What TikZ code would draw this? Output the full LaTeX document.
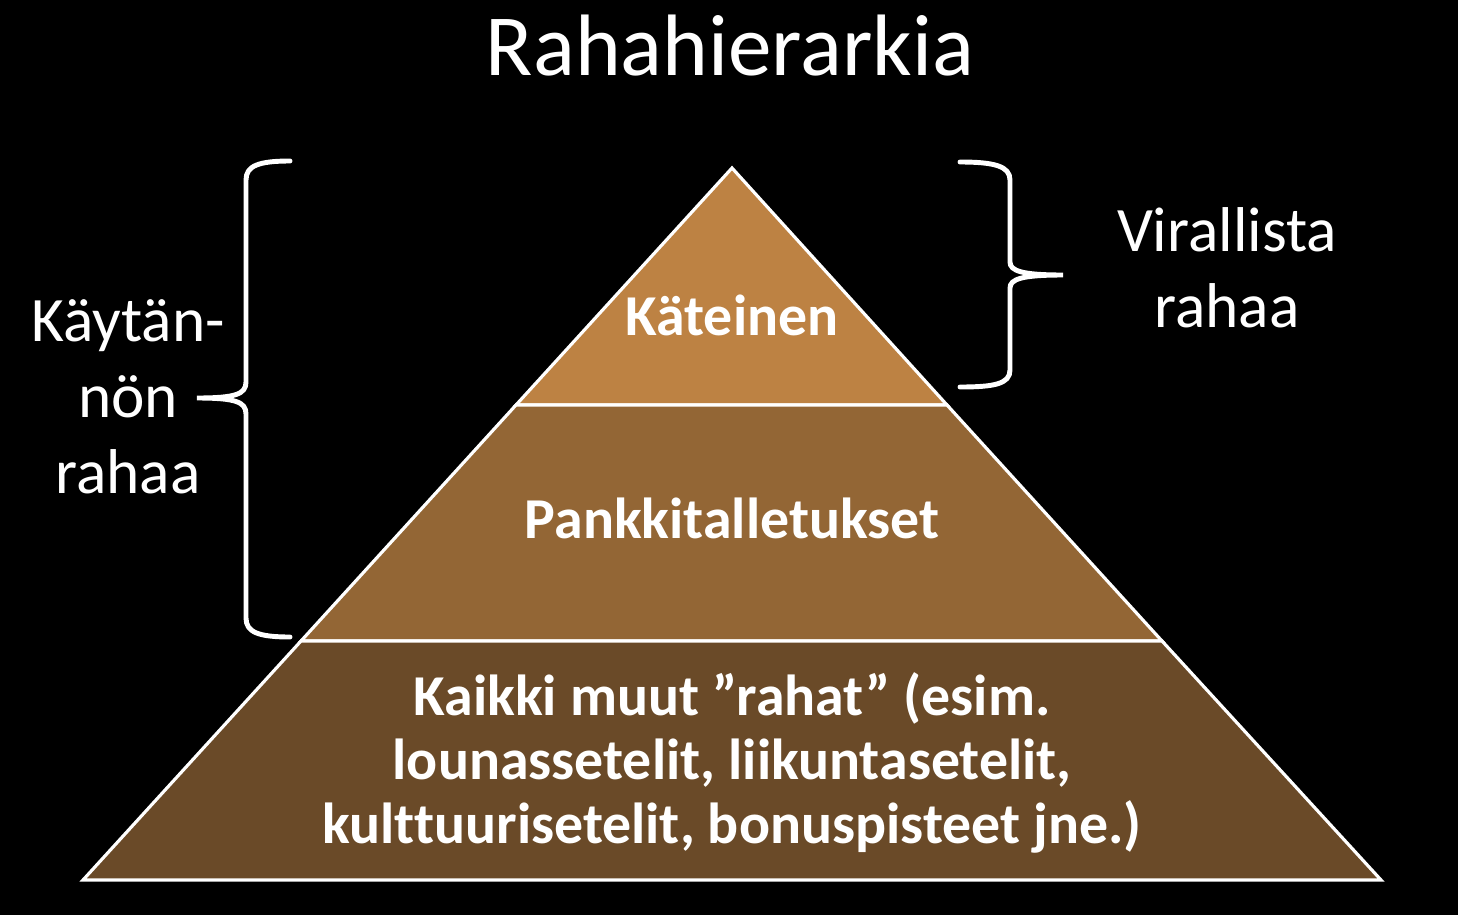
\documentclass[tikz,border=0pt]{standalone}
\usepackage{fontspec}
\setmainfont{Carlito}[Ligatures=NoCommon]
\usepackage{xcolor}
\definecolor{tierA}{RGB}{189,130,67}
\definecolor{tierB}{RGB}{147,102,53}
\definecolor{tierC}{RGB}{106,74,40}

\begin{document}
\begin{tikzpicture}[x=0.01cm,y=-0.01cm,
  tier/.style={draw=white,line width=0.9pt,line join=miter},
  brace/.style={draw=white,line width=1.4pt,line cap=round},
  lbl/.style={text=white,anchor=base,align=center,inner sep=0pt,
    font=\fontsize{18}{21.6}\selectfont},
  tiertext/.style={text=white,anchor=base,align=center,inner sep=0pt,
    font=\fontsize{16.45}{18.2}\selectfont\bfseries}]
\fill[black] (0,0) rectangle (1458,915);
\useasboundingbox (0,0) rectangle (1458,915);
% pyramid corners
\coordinate (apex) at (732,168);
\coordinate (l1) at (516,405);
\coordinate (r1) at (947,405);
\coordinate (l2) at (301,641);
\coordinate (r2) at (1162,641);
\coordinate (l3) at (83,880);
\coordinate (r3) at (1381,880);
\filldraw[tier,fill=tierA] (apex) -- (r1) -- (l1) -- cycle;
\filldraw[tier,fill=tierB] (l1) -- (r1) -- (r2) -- (l2) -- cycle;
\filldraw[tier,fill=tierC] (l2) -- (r2) -- (r3) -- (l3) -- cycle;
% braces
\draw[brace] (290,161) .. controls (258,161) and (246,166) .. (246,180)
  -- (246,382) .. controls (246,394) and (236,398) .. (197,398)
  .. controls (236,398) and (246,402) .. (246,414)
  -- (246,618) .. controls (246,632) and (258,637) .. (290,637);
\draw[brace] (960,162) .. controls (994,162) and (1010,166) .. (1010,180)
  -- (1010,262) .. controls (1010,271) and (1022,275) .. (1063,275)
  .. controls (1022,275) and (1010,279) .. (1010,288)
  -- (1010,370) .. controls (1010,384) and (994,387) .. (960,387);
% texts (multi-line nodes sit on their last baseline)
\node[lbl,font=\fontsize{24.8}{29}\selectfont] (title) at (730,75) {Rahahierarkia};
\node[tiertext] (kateinen) at (732,335) {Käteinen};
\node[tiertext] (pankki) at (732,538) {Pankkitalletukset};
\node[tiertext] (muut) at (732,843) {Kaikki muut ”rahat” (esim.\\
  lounassetelit, liikuntasetelit,\\ kulttuurisetelit, bonuspisteet jne.)};
\node[lbl] (kaytannon) at (128,493) {Käytän-\\nön\\rahaa};
\node[lbl] (virallista) at (1227,327) {Virallista\\rahaa};
\end{tikzpicture}
\end{document}
